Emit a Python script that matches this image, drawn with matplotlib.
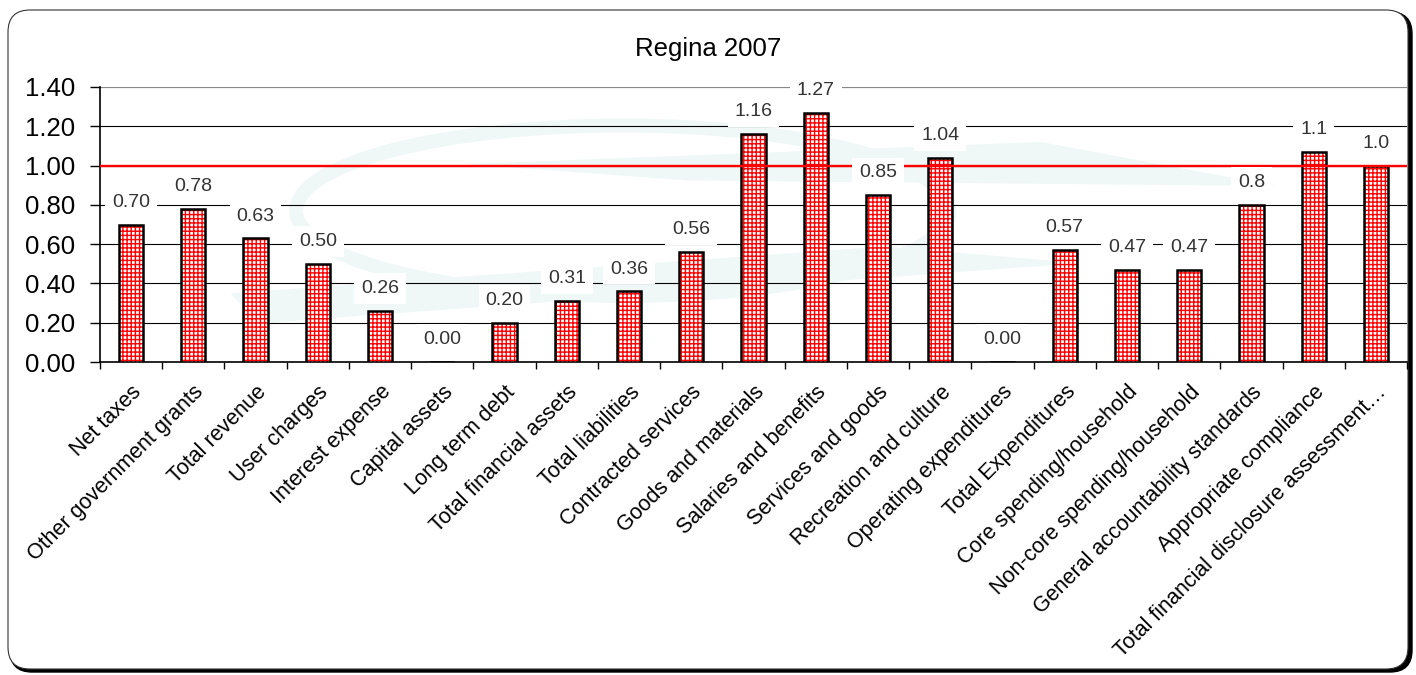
import numpy as np
import matplotlib.pyplot as plt
from matplotlib.patches import FancyBboxPatch, Ellipse, Polygon

plt.rcParams['font.family'] = ['Liberation Sans', 'DejaVu Sans']
plt.rcParams['hatch.linewidth'] = 1.0

categories = [
    "Net taxes", "Other government grants", "Total revenue", "User charges",
    "Interest expense", "Capital assets", "Long term debt", "Total financial assets",
    "Total liabilities", "Contracted services", "Goods and materials",
    "Salaries and benefits", "Services and goods", "Recreation and culture",
    "Operating expenditures", "Total Expenditures", "Core spending/household",
    "Non-core spending/household", "General accountability standards",
    "Appropriate compliance", "Total financial disclosure assessment\u2026",
]
values = [0.70, 0.78, 0.63, 0.50, 0.26, 0.00, 0.20, 0.31, 0.36, 0.56, 1.16,
          1.27, 0.85, 1.04, 0.00, 0.57, 0.47, 0.47, 0.80, 1.07, 1.00]
decimals = [2] * 18 + [1, 1, 1]
yticks = [0.0, 0.2, 0.4, 0.6, 0.8, 1.0, 1.2, 1.4]
benchmark = 1.0

fig = plt.figure(figsize=(14.16, 6.75), dpi=100)

# rounded frame with a dark drop shadow on the right/bottom
shadow = FancyBboxPatch((0.10, 0.03), 14.02, 6.60, boxstyle="round,pad=0,rounding_size=0.22",
                        transform=fig.dpi_scale_trans, facecolor="black", edgecolor="black",
                        zorder=-2)
frame = FancyBboxPatch((0.08, 0.06), 14.00, 6.59, boxstyle="round,pad=0,rounding_size=0.22",
                       transform=fig.dpi_scale_trans, facecolor="white", edgecolor="#333333",
                       linewidth=0.8, zorder=-1)
fig.patches.extend([shadow, frame])

ax = fig.add_axes([100 / 1416, 1 - 362 / 675, 1307 / 1416, 275 / 675])
ax.set_zorder(2)
ax.patch.set_alpha(0)

# faint background logo swooshes
wm = "#f0f7f7"
ax.add_patch(Ellipse((0.40, 0.55), 0.50, 0.62, transform=ax.transAxes,
                     facecolor="none", edgecolor=wm, linewidth=10, zorder=0))
ax.add_patch(Polygon([(0.28, 0.72), (0.72, 0.80), (0.90, 0.64), (0.45, 0.66)],
                     transform=ax.transAxes, facecolor=wm, edgecolor="none", zorder=0))
ax.add_patch(Polygon([(0.10, 0.25), (0.60, 0.42), (0.75, 0.36), (0.12, 0.14)],
                     transform=ax.transAxes, facecolor=wm, edgecolor="none", zorder=0))

x = np.arange(len(categories))
ax.bar(x, values, width=0.39, facecolor="white", edgecolor="red", hatch="++++",
       linewidth=0, zorder=3)
ax.bar(x, values, width=0.39, fill=False, edgecolor="black", linewidth=1.8, zorder=4)

ax.axhline(benchmark, color="red", linewidth=1.7, zorder=5)

for xi, v, d in zip(x, values, decimals):
    ax.annotate(f"{v:.{d}f}", (xi, v), xytext=(0, 16), textcoords="offset points",
                ha="center", va="center", fontsize=14, color="#333333",
                bbox=dict(boxstyle="square,pad=0.35", facecolor="white", edgecolor="none"),
                zorder=6)

ax.set_xlim(-0.5, len(categories) - 0.5)
ax.set_ylim(0, 1.4)
ax.set_yticks(yticks)
ax.set_yticklabels([f"{t:.2f}" for t in yticks], fontsize=18.5)
for t in yticks[1:-1]:
    ax.axhline(t, color="black", linewidth=0.8, zorder=1)
ax.axhline(yticks[-1], color="#888888", linewidth=1.6, zorder=1)

ax.set_xticks(x)
ax.set_xticklabels(categories, rotation=45, ha="right", va="top",
                   rotation_mode="anchor", fontsize=15.5)
ax.tick_params(axis="x", length=0, pad=14)
ax.set_xticks(np.arange(len(categories) + 1) - 0.5, minor=True)
ax.tick_params(axis="x", which="minor", length=5, width=1, direction="out")
ax.tick_params(axis="y", length=7, width=1, direction="out", pad=11)

for side in ["top", "right"]:
    ax.spines[side].set_visible(False)
ax.spines["left"].set_linewidth(1.2)
ax.spines["bottom"].set_linewidth(1.2)

fig.text(0.5, 1 - 49 / 675, "Regina 2007", ha="center", va="center", fontsize=18.5)

fig.savefig("out.png", dpi=100)
